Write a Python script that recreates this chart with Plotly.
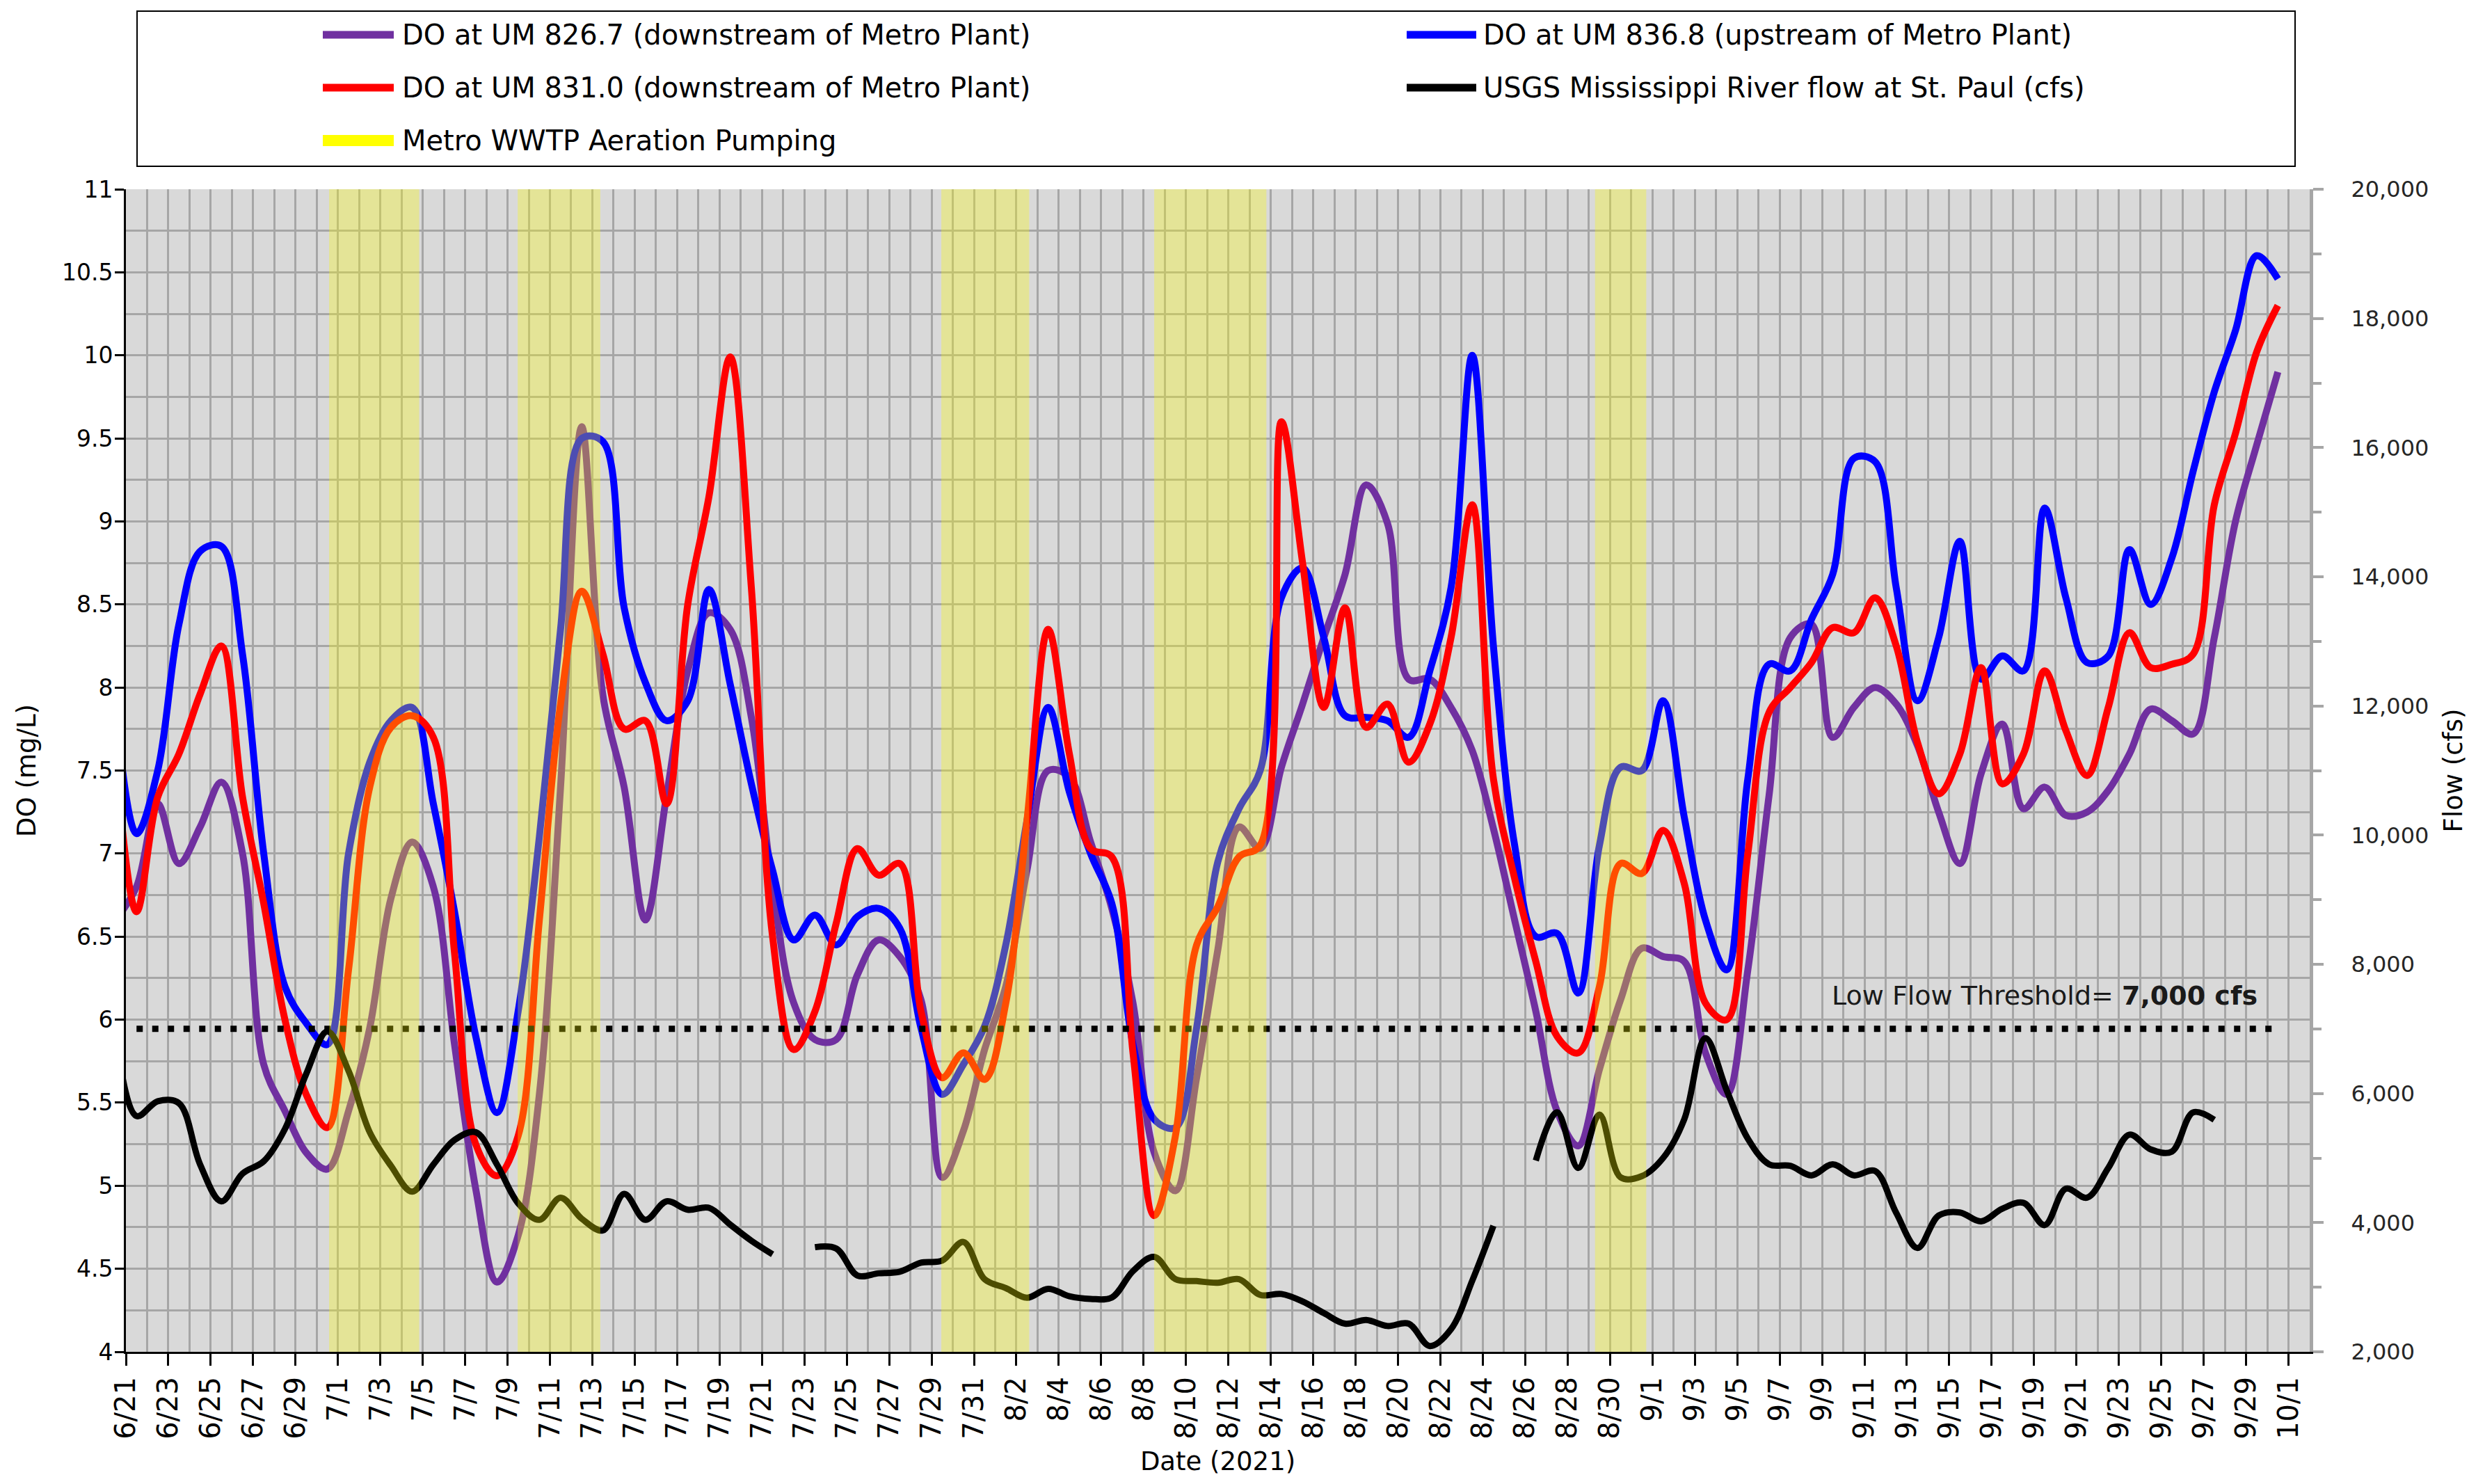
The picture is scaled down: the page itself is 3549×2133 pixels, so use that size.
import plotly.graph_objects as go
import pandas as pd

# ---------------- data (daily readings, first reading 2021-06-20 12:00) ----------------
FIRST_READING = "2021-06-20 12:00"

do_um_826_7 = [6.6, 6.8, 7.3, 6.94, 7.16, 7.43, 7.0, 5.73, 5.45, 5.2,
               5.1, 5.45, 5.95, 6.73, 7.07, 6.8, 5.85, 4.98, 4.42, 4.7,
               5.55, 7.4, 9.57, 7.95, 7.4, 6.6, 7.35, 8.1, 8.45, 8.35,
               7.82, 6.8, 6.1, 5.88, 5.88, 6.27, 6.48, 6.38, 6.12, 5.05,
               5.33, 5.82, 6.2, 6.9, 7.5, 7.46, 7.07, 6.67, 6.1, 5.2,
               4.97, 5.65, 6.42, 7.16, 7.03, 7.52, 7.9, 8.3, 8.68, 9.22,
               8.99, 8.05, 8.05, 7.88, 7.62, 7.15, 6.6, 6.05, 5.45, 5.24,
               5.7, 6.12, 6.43, 6.38, 6.35, 5.8, 5.55, 6.3, 7.35, 8.3,
               8.38, 7.7, 7.88, 8.0, 7.9, 7.65, 7.25, 6.94, 7.48, 7.78,
               7.27, 7.4, 7.23, 7.25, 7.38, 7.6, 7.87, 7.8, 7.72, 8.3,
               9.0, 9.46, 9.9]

do_um_836_8 = [7.9, 7.12, 7.5, 8.38, 8.82, 8.85, 8.2, 7.0, 6.2, 5.98,
               5.85, 7.0, 7.55, 7.8, 7.88, 7.3, 6.65, 5.9, 5.44, 6.05,
               7.1, 8.35, 9.5, 9.48, 8.48, 8.03, 7.8, 7.92, 8.59, 8.02,
               7.42, 6.9, 6.48, 6.63, 6.45, 6.62, 6.67, 6.55, 5.95, 5.55,
               5.73, 5.96, 6.45, 7.2, 7.88, 7.37, 7.0, 6.7, 5.85, 5.4,
               5.35, 5.95, 6.95, 7.27, 7.5, 8.54, 8.72, 8.3, 7.83, 7.82,
               7.8, 7.7, 8.1, 8.6, 10.0, 8.25, 7.05, 6.5, 6.52, 6.16,
               7.05, 7.52, 7.5, 7.92, 7.22, 6.6, 6.3, 7.45, 8.14, 8.1,
               8.41, 8.68, 9.38, 9.36, 8.6, 7.92, 8.3, 8.88, 8.05, 8.19,
               8.1, 9.08, 8.54, 8.15, 8.19, 8.83, 8.5, 8.78, 9.3, 9.78,
               10.15, 10.6, 10.46]

do_um_831_0 = [7.6, 6.65, 7.34, 7.6, 7.96, 8.25, 7.34, 6.7, 6.0, 5.55,
               5.35, 6.3, 7.4, 7.76, 7.83, 7.7, 6.4, 5.25, 5.06, 5.3,
               6.6, 7.9, 8.58, 8.2, 7.75, 7.8, 7.3, 8.5, 9.15, 9.99,
               8.6, 6.5, 5.82, 6.05, 6.58, 7.03, 6.87, 6.94, 6.05, 5.65,
               5.8, 5.64, 6.1, 7.2, 8.35, 7.6, 7.03, 6.98, 5.8, 4.82,
               5.3, 6.45, 6.68, 6.98, 7.05, 9.6, 8.75, 7.88, 8.48, 7.76,
               7.9, 7.55, 7.78, 8.3, 9.1, 7.45, 6.85, 6.35, 5.9, 5.8,
               6.2, 6.94, 6.88, 7.14, 6.82, 6.1, 6.0, 7.0, 7.85, 8.0,
               8.15, 8.36, 8.33, 8.54, 8.25, 7.67, 7.36, 7.6, 8.12, 7.42,
               7.6, 8.1, 7.74, 7.47, 7.88, 8.33, 8.12, 8.14, 8.2, 9.1,
               9.53, 10.02, 10.3]

flow_st_paul = [7000, 5650, 5880, 5850, 4900, 4330, 4760, 4950, 5450, 6300,
                6960, 6350, 5400, 4880, 4480, 4900, 5280, 5400, 4900, 4300,
                4043, 4387, 4060, 3880, 4445, 4043, 4330, 4200, 4230, 3970,
                3720, 3510, None, 3620, 3600, 3182, 3216, 3240, 3380, 3412,
                3700, 3125, 2987, 2837, 2975, 2860, 2820, 2840, 3250, 3470,
                3125, 3095, 3070, 3125, 2880, 2895, 2780, 2600, 2436, 2493,
                2400, 2436, 2090, 2350, 3100, 3951, None, 4961, 5707, 4846,
                5673, 4700, 4720, 5000, 5600, 6856, 6050, 5300, 4904, 4880,
                4732, 4904, 4732, 4800, 4150, 3607, 4110, 4158, 4020, 4215,
                4307, 3962, 4525, 4387, 4846, 5363, 5134, 5100, 5707, 5593]

aeration_start = ["2021-06-30 14:00", "2021-07-09 11:30", "2021-07-29 11:00",
                  "2021-08-08 12:00", "2021-08-29 07:00"]
aeration_end = ["2021-07-04 20:00", "2021-07-13 09:00", "2021-08-02 14:30",
                "2021-08-13 19:00", "2021-08-31 17:00"]

LOW_FLOW_CFS = 7000

series_names = ["DO at UM 826.7 (downstream of Metro Plant)",
                "DO at UM 836.8 (upstream of Metro Plant)",
                "DO at UM 831.0 (downstream of Metro Plant)",
                "USGS Mississippi River flow at St. Paul (cfs)",
                "Metro WWTP Aeration Pumping"]
series_colors = ["#7030a0", "#0000ff", "#ff0000", "#000000", "#ffff00"]

X_RANGE = ["2021-06-21", "2021-10-02"]
DO_RANGE = [4, 11]
FLOW_RANGE = [2000, 20000]

# ---------------- layout constants ----------------
W, H = 3549, 2133
ML, MR, MT, MB = 181, 229, 272, 190
GRID = "#a6a6a6"
AX2 = "#a6a6a6"
FONT = "DejaVu Sans"
DAY_MS = 86400000


def px(x):
    return (x - ML) / (W - ML - MR)


def py(y):
    return (H - MB - y) / (H - MT - MB)


dates_do = pd.date_range(FIRST_READING, periods=len(do_um_826_7), freq="D")
dates_flow = pd.date_range(FIRST_READING, periods=len(flow_st_paul), freq="D")

fig = go.Figure()
line_w = 10
for vals, name, col in [(do_um_826_7, series_names[0], series_colors[0]),
                        (do_um_836_8, series_names[1], series_colors[1]),
                        (do_um_831_0, series_names[2], series_colors[2])]:
    fig.add_trace(go.Scatter(x=dates_do, y=vals, name=name, mode="lines",
                             line=dict(color=col, width=line_w, shape="spline", smoothing=1.0),
                             yaxis="y"))

fig.add_trace(go.Scatter(x=dates_flow, y=flow_st_paul, name=series_names[3], mode="lines",
                         connectgaps=False,
                         line=dict(color=series_colors[3], width=9, shape="spline", smoothing=1.0),
                         yaxis="y2"))

# low flow threshold (dotted)
fig.add_trace(go.Scatter(x=[dates_do[1], dates_do[-1]], y=[LOW_FLOW_CFS, LOW_FLOW_CFS],
                         mode="lines", name="Low Flow Threshold",
                         line=dict(color="black", width=9, dash="9px,13.5px"),
                         yaxis="y2", showlegend=False))

# aeration pumping periods
for s, e in zip(aeration_start, aeration_end):
    fig.add_shape(type="rect", xref="x", yref="y domain", x0=s, x1=e, y0=0, y1=1,
                  fillcolor=series_colors[4], opacity=0.3, line_width=0, layer="above")

# ---------------- custom legend ----------------
fig.add_shape(type="rect", xref="paper", yref="paper",
              x0=px(197), x1=px(3299), y0=py(239), y1=py(16),
              line=dict(color="black", width=2), fillcolor="rgba(0,0,0,0)", layer="above")
leg_cols = [(464, 566, 576), (2022, 2122, 2130)]
leg_rows = [50, 126, 202]
leg_pos = [(0, 0), (1, 0), (0, 1), (1, 1), (0, 2)]
for i, (c, r) in enumerate(leg_pos):
    x0, x1, xt = leg_cols[c]
    yy = leg_rows[r]
    fig.add_shape(type="line", xref="paper", yref="paper", x0=px(x0), x1=px(x1),
                  y0=py(yy), y1=py(yy),
                  line=dict(color=series_colors[i], width=16 if i == 4 else 11), layer="above")
    fig.add_annotation(xref="paper", yref="paper", x=px(xt), y=py(yy), text=series_names[i],
                       showarrow=False, xanchor="left", yanchor="middle",
                       font=dict(family=FONT, size=40, color="black"))

fig.add_annotation(xref="paper", yref="paper", x=px(2631), y=py(1431),
                   text="Low Flow Threshold= <b>7,000 cfs</b>", showarrow=False,
                   xanchor="left", yanchor="middle",
                   font=dict(family=FONT, size=38, color="#1a1a1a"))

fig.update_layout(
    width=W, height=H,
    margin=dict(l=ML, r=MR, t=MT, b=MB, pad=0, autoexpand=False),
    paper_bgcolor="white", plot_bgcolor="#d9d9d9", showlegend=False,
    font=dict(family=FONT, size=38, color="black"),
    xaxis=dict(type="date", range=X_RANGE, tick0="2021-06-21", dtick=2 * DAY_MS,
               tickformat="%-m/%-d", tickangle=-90, ticks="outside", ticklen=17,
               tickwidth=3, tickcolor="black", showline=True, linecolor="black",
               linewidth=3, showgrid=True, gridcolor=GRID, gridwidth=3, zeroline=False,
               minor=dict(dtick=DAY_MS, tick0="2021-06-21", showgrid=True,
                          gridcolor=GRID, gridwidth=3),
               tickfont=dict(family=FONT, size=40, color="black"),
               title=dict(text="Date (2021)", standoff=20,
                          font=dict(family=FONT, size=37, color="black"))),
    yaxis=dict(range=DO_RANGE, tick0=4, dtick=0.5, ticks="outside", ticklen=13,
               tickwidth=3, tickcolor="black", showline=True, linecolor="black",
               linewidth=3, showgrid=True, gridcolor=GRID, gridwidth=3, zeroline=False,
               minor=dict(dtick=0.25, showgrid=True, gridcolor=GRID, gridwidth=3),
               tickfont=dict(family=FONT, size=33, color="black"), ticklabelstandoff=-4,
               title=dict(text="DO (mg/L)", standoff=26,
                          font=dict(family=FONT, size=37, color="black"))),
    yaxis2=dict(overlaying="y", side="right", range=FLOW_RANGE, tick0=2000, dtick=2000,
                tickformat=",", ticks="outside", ticklen=15, tickwidth=4, tickcolor=AX2,
                showline=True, linecolor=AX2, linewidth=5, showgrid=False, zeroline=False,
                minor=dict(dtick=1000, tick0=2000, ticks="outside", ticklen=12, tickwidth=4,
                           tickcolor=AX2, showgrid=False),
                tickfont=dict(family=FONT, size=32, color="#262626"), ticklabelstandoff=33,
                title=dict(text="Flow (cfs)", standoff=24,
                           font=dict(family=FONT, size=37, color="black"))),
)

fig.write_html("out.html", config={"displayModeBar": False},
               post_script="document.body.style.margin='0px';")
